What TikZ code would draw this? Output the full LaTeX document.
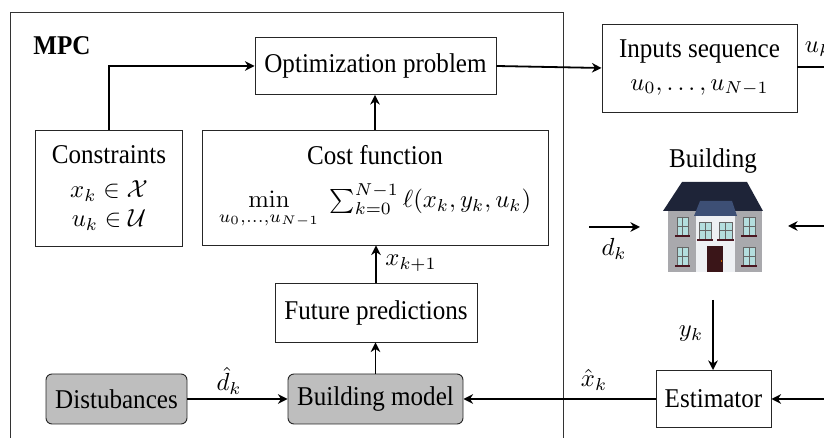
\RequirePackage{fix-cm}
\documentclass[tikz,border=0pt]{standalone}
\usepackage[no-math]{fontspec}
\setmainfont[Scale=1.13,FakeStretch=0.925]{Liberation Serif}
\DeclareMathSizes{10}{10.3}{7.2}{5.2}
\usetikzlibrary{arrows.meta}
\newcommand{\pxu}{0.4167pt}
\definecolor{boxgray}{HTML}{BEBEBE}
\definecolor{roofdark}{HTML}{1E2438}
\definecolor{roofblue}{HTML}{3D4F75}
\definecolor{wallgray}{HTML}{A9A9AD}
\definecolor{wallwhite}{HTML}{EEF0F3}
\definecolor{glassc}{HTML}{B4DEDE}
\definecolor{sillc}{HTML}{4A1620}
\definecolor{doorc}{HTML}{3A1518}
\tikzset{
  x=\pxu, y=-\pxu,
  block/.style={draw=black!85, line width=0.4pt, inner sep=0pt, align=center, minimum width=#1*\pxu},
  blockh/.style={minimum height=#1*\pxu},
  grayblock/.style={block=#1, fill=boxgray, rounded corners=2.5pt},
  flow/.style={-{Stealth[length=4pt,width=4pt]}, line width=0.75pt},
  flowline/.style={line width=0.75pt},
  glasspane/.style={fill=glassc, draw=black!60, line width=0.2pt},
  lab/.style={inner sep=0pt}
}
\begin{document}
\begin{tikzpicture}
\useasboundingbox (0,0) rectangle (824,438);
\clip (0,0) rectangle (824,438);
% MPC frame
\draw[line width=0.4pt, draw=black!80] (10,470) -- (10,12) -- (563,12) -- (563,470);
\node[lab, font=\bfseries] (mpc) at (62,46) {MPC};
% blocks
\node[block=241, blockh=57] (opt) at (375.5,66) {Optimization problem};
\node[block=195, blockh=88] (inp) at (699.5,68) {Inputs sequence\\[1.5pt]$u_0,\dots,u_{N-1}$};
\node[block=147, blockh=116] (con) at (109,188) {Constraints\\[2pt]$x_k\in\mathcal{X}$\\$u_k\in\mathcal{U}$};
\node[block=346, blockh=115] (cost) at (375,187.5) {Cost function\\[6pt]$\displaystyle\min_{u_0,\dots,u_{N-1}}\ \textstyle\sum_{k=0}^{N-1}\ell(x_k,y_k,u_k)$};
\node[block=202, blockh=59] (fut) at (376,312.5) {Future predictions};
\node[grayblock=141, blockh=50] (dist) at (116.5,399) {Distubances};
\node[grayblock=175, blockh=50] (bm) at (375.5,399) {Building model};
\node[block=115, blockh=57] (est) at (713.5,399) {Estimator};
% free ends
\coordinate (uout) at (824,67);
\coordinate (dstart) at (589,227);
\coordinate (dend) at (640,227);
\coordinate (rstart) at (824,226);
\coordinate (rend) at (788,226);
\coordinate (ystart) at (713,300);
\coordinate (estin) at (824,399);
% connectors
\draw[flow] (con.north) |- (opt.west);
\draw[flow] (opt.east) -- (inp.west);
\draw[flow] (cost.north) -- (cost.north |- opt.south);
\draw[flow] (fut.north) -- (cost.south -| fut.north);
\draw[flow] (bm.north) -- (fut.south -| bm.north);
\draw[flow] (dist.east) -- (bm.west);
\draw[flow] (est.west) -- (bm.east);
\draw[flow] (estin) -- (est.east);
\draw[flow] (ystart) -- (ystart |- est.north);
\draw[flowline] (inp.east |- uout) -- (uout);
\draw[flow] (dstart) -- (dend);
\draw[flow] (rstart) -- (rend);
% labels
\node[lab] (lbuk) at (818,49) {$u_k$};
\node[lab] (lbb) at (713,161) {Building};
\node[lab] (lbd) at (614,249) {$d_k$};
\node[lab] (lby) at (691,334) {$y_k$};
\node[lab] (lbx1) at (411,263) {$x_{k+1}$};
\node[lab] (lbdh) at (229,381) {$\hat{d}_k$};
\node[lab] (lbxh) at (594,380) {$\hat{x}_k$};
% house
\fill[wallgray] (668,211) rectangle (762,272);
\fill[wallwhite] (696,214) rectangle (735,272);
\fill[roofdark] (682,182) -- (747,182) -- (763,211) -- (663,211) -- cycle;
\fill[roofblue] (700,201) -- (732,201) -- (737,216) -- (694,216) -- cycle;
\foreach \xa/\ya/\xb/\yb in {677/217/688/235, 743/217/755/235, 699/222/711/239, 719/222/732/239, 677/247/688/265, 743/247/755/265}{
  \path[glasspane] (\xa,\ya) rectangle (\xb,\yb);
  \draw[black!60, line width=0.2pt] ({(\xa+\xb)/2},\ya) -- ({(\xa+\xb)/2},\yb);
  \draw[black!60, line width=0.2pt] (\xa,{(\ya+\yb)/2}) -- (\xb,{(\ya+\yb)/2});
  \fill[sillc] (\xa-2,\yb) rectangle (\xb+2,\yb+2.5);
}
\fill[doorc] (707,246) rectangle (723,272);
\fill[orange!80!black] (720.5,260) rectangle (721.5,262.5);
\end{tikzpicture}
\end{document}
